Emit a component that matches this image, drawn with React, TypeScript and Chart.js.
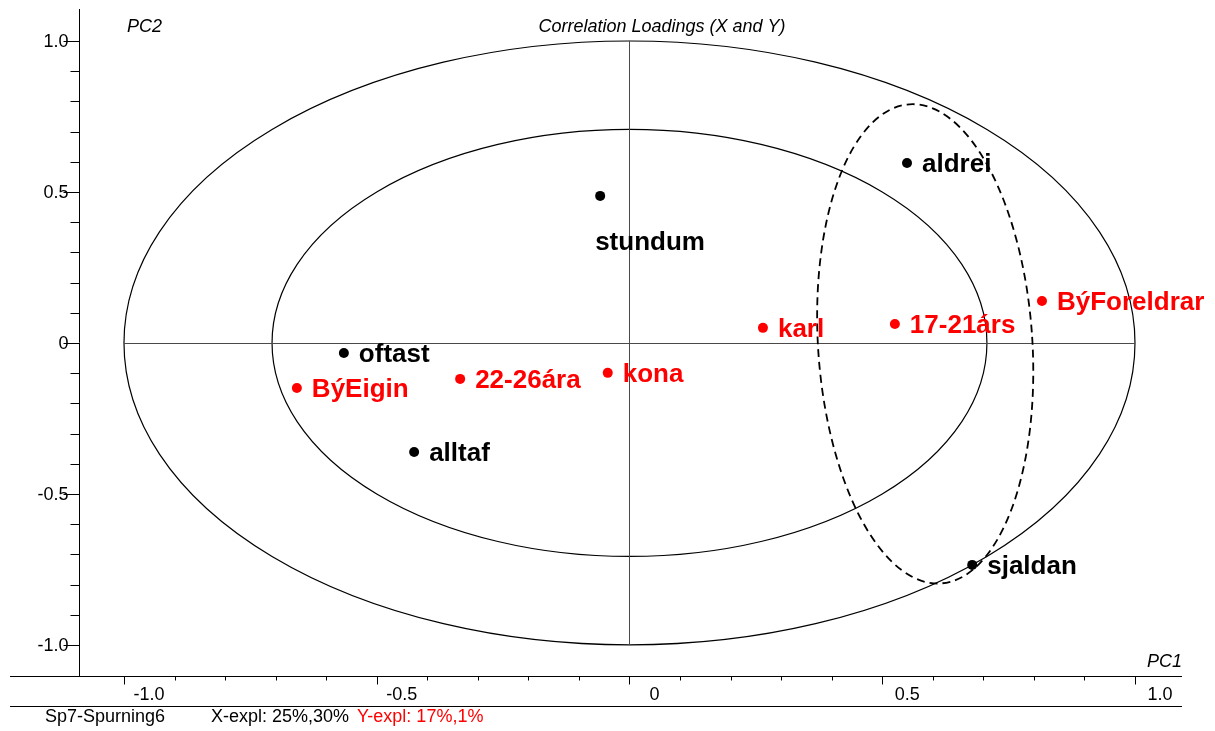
import { useEffect, useRef } from "react";
import { Chart, registerables } from "chart.js";

Chart.register(...registerables);

// X-variables (black)
const blackNames = ["aldrei", "stundum", "oftast", "alltaf", "sjaldan"];
const blackPC1 = [0.549, -0.058, -0.565, -0.426, 0.678];
const blackPC2 = [0.596, 0.487, -0.033, -0.361, -0.735];

// Y-variables (red)
const redNames = ["BýForeldrar", "17-21árs", "karl", "22-26ára", "kona", "BýEigin"];
const redPC1 = [0.816, 0.525, 0.264, -0.335, -0.043, -0.658];
const redPC2 = [0.139, 0.063, 0.05, -0.119, -0.099, -0.149];

const xTickValues = [-1, -0.5, 0, 0.5, 1];
const xTickLabels = ["-1.0", "-0.5", "0", "0.5", "1.0"];
const yTickValues = [1, 0.5, 0, -0.5, -1];
const yTickLabels = ["1.0", "0.5", "0", "-0.5", "-1.0"];

const circleRadii = [1, 0.7071];
const groupEllipse = { cx: 0.585, cy: -0.003, rx: 0.212, ry: 0.795 };

const FONT = '"Liberation Sans", Arial, Helvetica, sans-serif';
const BLACK = "#000000";
const RED = "#ff0000";

const decorPlugin = {
  id: "decor",
  beforeDatasetsDraw(chart: any) {
    const { ctx, chartArea } = chart;
    const xs = chart.scales.x;
    const ys = chart.scales.y;
    const x0 = xs.getPixelForValue(0);
    const y0 = ys.getPixelForValue(0);
    ctx.save();
    // circles
    ctx.strokeStyle = "#000";
    ctx.lineWidth = 1.2;
    for (const r of circleRadii) {
      const rx = xs.getPixelForValue(r) - x0;
      const ry = y0 - ys.getPixelForValue(r);
      ctx.beginPath();
      ctx.ellipse(x0, y0, rx, ry, 0, 0, Math.PI * 2);
      ctx.stroke();
    }
    // cross lines
    ctx.strokeStyle = "#4a4a4a";
    ctx.lineWidth = 1;
    ctx.beginPath();
    ctx.moveTo(Math.round(x0) + 0.5, ys.getPixelForValue(1));
    ctx.lineTo(Math.round(x0) + 0.5, ys.getPixelForValue(-1));
    ctx.moveTo(xs.getPixelForValue(-1), Math.round(y0) + 0.5);
    ctx.lineTo(xs.getPixelForValue(1), Math.round(y0) + 0.5);
    ctx.stroke();
    // dashed group ellipse
    const ecx = xs.getPixelForValue(groupEllipse.cx);
    const ecy = ys.getPixelForValue(groupEllipse.cy);
    const erx = xs.getPixelForValue(groupEllipse.cx + groupEllipse.rx) - ecx;
    const ery = ecy - ys.getPixelForValue(groupEllipse.cy + groupEllipse.ry);
    ctx.strokeStyle = "#000";
    ctx.lineWidth = 1.8;
    ctx.setLineDash([8, 5]);
    ctx.beginPath();
    ctx.ellipse(ecx, ecy, erx, ery, -0.065, 0, Math.PI * 2);
    ctx.stroke();
    ctx.setLineDash([]);

    // axes
    const axX = chartArea.left - 0.5;
    const axY = chartArea.bottom + 0.5;
    ctx.strokeStyle = "#000";
    ctx.lineWidth = 1;
    ctx.beginPath();
    ctx.moveTo(axX, chartArea.top);
    ctx.lineTo(axX, chartArea.bottom);
    ctx.moveTo(10, axY);
    ctx.lineTo(chartArea.right, axY);
    ctx.moveTo(10, axY + 30);
    ctx.lineTo(chartArea.right, axY + 30);
    ctx.stroke();
    // ticks
    ctx.beginPath();
    for (let i = -10; i <= 10; i++) {
      const v = i / 10;
      const major = i % 5 === 0;
      const py = Math.round(ys.getPixelForValue(v)) + 0.5;
      ctx.moveTo(axX - (major ? 16 : 9), py);
      ctx.lineTo(axX, py);
      const px = Math.round(xs.getPixelForValue(v)) + 0.5;
      ctx.moveTo(px, axY);
      ctx.lineTo(px, axY + (major ? 8 : 4));
    }
    ctx.stroke();
    // tick labels
    ctx.fillStyle = "#000";
    ctx.font = `18px ${FONT}`;
    ctx.textBaseline = "middle";
    ctx.textAlign = "right";
    yTickValues.forEach((v, i) => {
      ctx.fillText(yTickLabels[i], axX - 11, ys.getPixelForValue(v) + 1);
    });
    ctx.textAlign = "center";
    xTickValues.forEach((v, i) => {
      ctx.fillText(xTickLabels[i], xs.getPixelForValue(v) + 25, axY + 19);
    });
    // titles
    ctx.font = `italic 18px ${FONT}`;
    ctx.textAlign = "center";
    ctx.fillText("Correlation Loadings (X and Y)", 662, 27);
    ctx.textAlign = "left";
    ctx.fillText("PC2", 127, 27);
    ctx.textAlign = "right";
    ctx.fillText("PC1", chartArea.right, 662);
    // footer
    ctx.font = `18px ${FONT}`;
    ctx.textAlign = "left";
    ctx.fillText("Sp7-Spurning6", 45, 717);
    ctx.fillText("X-expl: 25%,30%", 211, 717);
    ctx.fillStyle = RED;
    ctx.fillText("Y-expl: 17%,1%", 357, 717);
    ctx.restore();
  },
  afterDatasetsDraw(chart: any) {
    const { ctx } = chart;
    const xs = chart.scales.x;
    const ys = chart.scales.y;
    ctx.save();
    ctx.font = `bold 26px ${FONT}`;
    ctx.textBaseline = "alphabetic";
    ctx.textAlign = "left";
    const drawSet = (names: string[], xv: number[], yv: number[], color: string) => {
      ctx.fillStyle = color;
      names.forEach((n, i) => {
        const px = xs.getPixelForValue(xv[i]);
        const py = ys.getPixelForValue(yv[i]);
        if (n === "stundum") {
          ctx.fillText(n, px - 5, py + 54);
        } else {
          ctx.fillText(n, px + 15, py + 9);
        }
      });
    };
    drawSet(blackNames, blackPC1, blackPC2, BLACK);
    drawSet(redNames, redPC1, redPC2, RED);
    ctx.restore();
  },
};

export default function App() {
  const ref = useRef<HTMLCanvasElement | null>(null);
  useEffect(() => {
    if (!ref.current) return;
    const chart = new Chart(ref.current, {
      type: "scatter",
      data: {
        datasets: [
          {
            label: "X",
            data: blackPC1.map((x, i) => ({ x, y: blackPC2[i] })),
            backgroundColor: BLACK,
            borderColor: BLACK,
            pointRadius: 5,
            borderWidth: 0,
          },
          {
            label: "Y",
            data: redPC1.map((x, i) => ({ x, y: redPC2[i] })),
            backgroundColor: RED,
            borderColor: RED,
            pointRadius: 5,
            borderWidth: 0,
          },
        ],
      },
      options: {
        responsive: false,
        animation: false,
        layout: { padding: { left: 80, right: 33, top: 9, bottom: 55 } },
        plugins: { legend: { display: false }, tooltip: { enabled: false } },
        scales: {
          x: { type: "linear", min: -1.087, max: 1.093, display: false },
          y: { type: "linear", min: -1.103, max: 1.106, display: false },
        },
      },
      plugins: [decorPlugin],
    });
    return () => chart.destroy();
  }, []);
  return (
    <div style={{ position: "absolute", left: 0, top: 0, width: 1215, height: 731, background: "#fff" }}>
      <canvas ref={ref} width={1215} height={731} />
    </div>
  );
}
